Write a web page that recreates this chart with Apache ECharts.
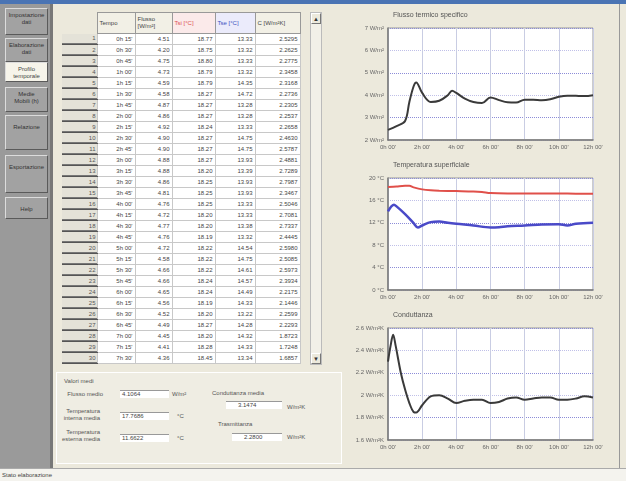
<!DOCTYPE html>
<html><head><meta charset="utf-8">
<script src="https://cdn.jsdelivr.net/npm/echarts@6/dist/echarts.min.js"></script>
<style>
html,body{margin:0;padding:0;width:626px;height:481px;overflow:hidden;background:#ECE9DC;font-family:Arial,"Liberation Sans",sans-serif;}
.abs{position:absolute;}
#topbar{left:0;top:0;width:626px;height:4px;background:#4a74b4;}
#side{left:0;top:4px;width:50px;height:464px;background:#9a9a9a;border-right:3px solid #787878;}
.btn{position:absolute;left:5px;width:43px;background:#a2a2a2;border:1px solid;border-color:#dcdcdc #5a5a5a #5a5a5a #dcdcdc;font-size:6px;line-height:7px;color:#333;text-align:center;box-sizing:border-box;padding-top:3px;}
.btn.sel{background:#f6f4ea;color:#444;}
#tbl{left:62px;top:12px;border-collapse:collapse;table-layout:fixed;font-size:6px;color:#444;}
#tbl tr.d{height:11px;}
#tbl td{height:10px;padding:0 2px;border:1px solid #c8c8c8;background:#fff;text-align:right;white-space:nowrap;overflow:hidden;line-height:9px;font-size:6px;}
#tbl th{height:20px;font-weight:normal;font-size:6px;line-height:7px;text-align:left;padding:0 2px;border:1px solid #999;background:#f2f0e6;color:#444;}
#tbl td.rh{background:#e4e2d8;border:none;border-bottom:1px solid #555;box-shadow:inset 0 -1px 0 #777;padding:0 1px 0 0;color:#555;}
#scroll{left:310px;top:12px;width:12px;height:353px;background:#f2f0e8;border:1px solid #bbb;box-sizing:border-box;}
.arr{position:absolute;left:0;width:10px;height:11px;background:#ece9dc;border:1px solid;border-color:#fff #777 #777 #fff;font-size:6px;line-height:10px;text-align:center;color:#333;box-sizing:border-box;}
#grp{left:56px;top:372px;width:284px;height:90px;border:1px solid #fff;background:#EFEDE3;}
.lbl{position:absolute;font-size:6px;line-height:7px;color:#555;}
.fld{position:absolute;height:7px;border-top:1px solid #999;background:#fff;font-size:6px;line-height:7px;color:#444;padding-left:2px;}
#status{left:0;top:468px;width:626px;height:13px;background:#f4f3ee;border-top:1px solid #aaa;font-size:6px;color:#444;line-height:12px;padding-left:2px;box-sizing:border-box;}
#chart{left:345px;top:4px;width:281px;height:464px;}
#redge{left:619px;top:4px;width:1px;height:464px;background:#999;}
</style></head>
<body>
<div id="topbar" class="abs"></div>
<div id="side" class="abs"></div>
<div id="btns"></div>
<table id="tbl" class="abs"></table>
<div id="scroll" class="abs"><div class="arr" style="top:0">▲</div><div class="arr" style="bottom:0">▼</div></div>
<div id="grp" class="abs"></div>
<div id="vals"></div>
<div id="chart" class="abs"></div>
<div id="redge" class="abs"></div>
<div id="status" class="abs">Stato elaborazione</div>
<script>
// ---------- data ----------
const sideButtons = ["Impostazione<br>dati","Elaborazione<br>dati","Profilo<br>temporale","Medie<br>Mobili (h)","Relazione","Esportazione","Help"];
const tableHeaders = ["", "Tempo", "Flusso<br>[W/m²]", "Tsi [°C]", "Tse [°C]", "C [W/m²K]"];
const rowTimes = ["0h 15'","0h 30'","0h 45'","1h 00'","1h 15'","1h 30'","1h 45'","2h 00'","2h 15'","2h 30'","2h 45'","3h 00'","3h 15'","3h 30'","3h 45'","4h 00'","4h 15'","4h 30'","4h 45'","5h 00'","5h 15'","5h 30'","5h 45'","6h 00'","6h 15'","6h 30'","6h 45'","7h 00'","7h 15'","7h 30'"];
const rowFlux = ["4.51","4.20","4.75","4.73","4.59","4.58","4.87","4.86","4.92","4.90","4.90","4.88","4.88","4.86","4.81","4.76","4.72","4.77","4.76","4.72","4.58","4.66","4.66","4.65","4.56","4.52","4.49","4.45","4.41","4.36"];
const rowTsi = ["18.77","18.75","18.80","18.79","18.79","18.27","18.27","18.27","18.24","18.27","18.27","18.27","18.20","18.25","18.25","18.25","18.20","18.20","18.19","18.22","18.22","18.22","18.24","18.24","18.19","18.20","18.27","18.20","18.28","18.45"];
const rowTse = ["13.33","13.32","13.33","13.32","14.35","14.72","13.28","13.28","13.33","14.75","14.75","13.93","13.39","13.93","13.93","13.33","13.33","13.38","13.32","14.54","14.75","14.61","14.57","14.49","14.33","13.22","14.28","14.32","14.33","13.34"];
const rowC = ["2.5295","2.2625","2.2775","2.3458","2.3168","2.2736","2.2305","2.2537","2.2658","2.4630","2.5787","2.4881","2.7289","2.7987","2.3467","2.5046","2.7081","2.7337","2.4445","2.5980","2.5085","2.5973","2.3934","2.2175","2.1446","2.2599","2.2293","1.8723","1.7248","1.6857"];

const avgLabels = ["Flusso medio","Temperatura<br>interna media","Temperatura<br>esterna media","Conduttanza media","Trasmittanza"];
const avgValues = ["4.1064","17.7686","11.6622","3.1474","2.2800"];
const avgUnits = ["W/m²","°C","°C","W/m²K","W/m²K"];

const chartTitles = ["Flusso termico specifico","Temperatura superficiale","Conduttanza"];

const fluxT = [0,0.5,1.0,1.25,1.5,1.65,2.0,2.5,3.0,3.5,3.75,4.0,4.5,5.0,5.5,6.0,6.5,7.0,7.5,8.0,8.5,9.0,9.5,10.0,10.5,11.0,11.5,12.0];
const fluxV = [2.45,2.62,2.85,3.7,4.4,4.57,4.1,3.7,3.75,4.0,4.2,4.1,3.85,3.7,3.65,3.9,3.78,3.68,3.67,3.8,3.8,3.78,3.82,3.93,3.98,3.97,3.96,4.0];

const tsiT = [0,0.5,1.0,1.25,1.5,2.0,2.5,3.0,4.0,5.0,5.5,6.0,7.0,8.0,9.0,10.0,11.0,12.0];
const tsiV = [18.39,18.5,18.6,18.6,18.33,17.97,17.8,17.73,17.67,17.6,17.5,17.3,17.25,17.25,17.25,17.25,17.2,17.2];

const tseT = [0,0.35,0.5,1.0,1.5,1.75,2.0,2.5,3.0,3.5,4.0,5.0,6.0,6.5,7.0,8.0,9.0,10.0,10.5,11.0,12.0];
const tseV = [14.03,15.22,14.93,13.55,11.94,11.16,11.52,12.12,12.24,12.0,11.82,11.52,11.16,11.22,11.4,11.52,11.7,11.76,11.52,11.82,12.0];

const condT = [0,0.15,0.3,0.45,0.75,1.0,1.25,1.5,1.65,2.0,2.5,3.0,3.5,4.0,4.5,5.0,5.5,6.0,6.5,7.0,7.5,8.0,8.5,9.0,9.5,10.0,10.5,11.0,11.5,12.0];
const condV = [2.30,2.44,2.54,2.44,2.2,2.05,1.93,1.85,1.845,1.91,1.99,2.0,1.97,1.93,1.95,1.96,1.96,1.93,1.94,1.97,1.98,1.96,1.97,1.98,1.98,1.96,1.96,1.97,1.99,1.98];

// ---------- UI ----------
const btnPos = [[8,27],[38,24],[62,20],[87,25],[115,35],[155,38],[197,22]];
let bh = "";
sideButtons.forEach((t,i)=>{
  bh += `<div class="btn${i===2?' sel':''}" style="top:${btnPos[i][0]}px;height:${btnPos[i][1]}px;${i>=4?'padding-top:8px;':''}">${t}</div>`;
});
document.getElementById('btns').innerHTML = bh;

const colW = [35,38,37,43,40,45];
let th = "<colgroup>" + colW.map(w=>`<col style="width:${w}px">`).join("") + "</colgroup><tr>";
tableHeaders.forEach((h,i)=>{
  let st = "";
  if(i===0) st="background:#ece9dc;border:none;";
  if(i===3) st="color:#e05050;background:#fbeaea;";
  if(i===4) st="color:#4050c0;background:#ebebfb;";
  th += `<th style="${st}">${h}</th>`;
});
th += "</tr>";
for(let r=0;r<rowTimes.length;r++){
  th += `<tr class="d"><td class="rh">${r+1}</td><td>${rowTimes[r]}</td><td>${rowFlux[r]}</td><td>${rowTsi[r]}</td><td>${rowTse[r]}</td><td>${rowC[r]}</td></tr>`;
}
document.getElementById('tbl').innerHTML = th;

const g = document.getElementById('vals');
let vh = `<div class="lbl" style="left:64px;top:378px;">Valori medi</div>`;
const lblPos = [[75,391],[72,408],[72,429],[212,390],[218,421]];
const fldPos = [[120,390,47],[120,412,47],[120,434,47],[226,401,54],[232,433,48]];
const unitPos = [[172,391],[177,413],[177,435],[287,404],[287,434]];
avgLabels.forEach((l,i)=>{
  vh += `<div class="lbl" style="left:${lblPos[i][0]}px;top:${lblPos[i][1]}px;text-align:${i<3?'right':'left'};width:${i<3?40:70}px;${i<3?'left:'+(lblPos[i][0]-12)+'px;':''}">${l}</div>`;
  vh += `<div class="fld" style="left:${fldPos[i][0]}px;top:${fldPos[i][1]}px;width:${fldPos[i][2]}px;">${i>=3?'&nbsp;&nbsp;&nbsp;&nbsp;&nbsp;&nbsp;':''}${avgValues[i]}</div>`;
  vh += `<div class="lbl" style="left:${unitPos[i][0]}px;top:${unitPos[i][1]}px;">${avgUnits[i]}</div>`;
});
g.innerHTML = vh;

// ---------- charts ----------
const chart = echarts.init(document.getElementById('chart'), null, {renderer:'canvas'});
const gridTops = [24,174,324];
const yCfg = [
  {min:2,max:7,interval:1,unit:' W/m²'},
  {min:0,max:20,interval:4,unit:' °C'},
  {min:1.6,max:2.6,interval:0.2,unit:' W/m²K'}
];
const pairs = (t,v)=>t.map((x,i)=>[x,v[i]]);
const grids=[],xAxes=[],yAxes=[],titles=[];
for(let i=0;i<3;i++){
  grids.push({left:43,width:205,top:gridTops[i],height:112,show:true,backgroundColor:'#fff',borderColor:'#999',borderWidth:1});
  titles.push({text:chartTitles[i],left:48,top:gridTops[i]-16,padding:0,textStyle:{fontSize:7,fontWeight:'normal',color:'#555',fontFamily:'Arial'}});
  xAxes.push({type:'value',gridIndex:i,min:0,max:12,interval:2,
    axisLine:{lineStyle:{color:'#777',width:1.5}},axisTick:{show:false},
    axisLabel:{fontSize:6,color:'#666',margin:4,formatter:v=>v+"h 00'"},
    splitLine:{show:true,lineStyle:{color:'#c9cde3',width:1}}});
  const c=yCfg[i];
  yAxes.push({type:'value',gridIndex:i,min:c.min,max:c.max,interval:c.interval,
    axisLine:{show:true,lineStyle:{color:'#777',width:1.5}},axisTick:{show:false},
    axisLabel:{fontSize:6,color:'#666',margin:4,formatter:v=>(Math.round(v*100)/100)+c.unit},
    splitLine:{show:true,lineStyle:{type:'dotted',width:1,color:['#c0c0e8','#8c8cd8','#c0c0e8','#8c8cd8','#c0c0e8','#8c8cd8']}}});
}
chart.setOption({
  animation:false,
  title:titles,
  grid:grids,xAxis:xAxes,yAxis:yAxes,
  series:[
    {type:'line',xAxisIndex:0,yAxisIndex:0,data:pairs(fluxT,fluxV),showSymbol:false,smooth:0.35,lineStyle:{color:'#3a3a3a',width:2}},
    {type:'line',xAxisIndex:1,yAxisIndex:1,data:pairs(tsiT,tsiV),showSymbol:false,smooth:0.35,lineStyle:{color:'#e0504a',width:2}},
    {type:'line',xAxisIndex:1,yAxisIndex:1,data:pairs(tseT,tseV),showSymbol:false,smooth:0.35,lineStyle:{color:'#4a4ac8',width:2.5}},
    {type:'line',xAxisIndex:2,yAxisIndex:2,data:pairs(condT,condV),showSymbol:false,smooth:0.35,lineStyle:{color:'#3a3a3a',width:2}}
  ]
});
</script>
</body></html>
